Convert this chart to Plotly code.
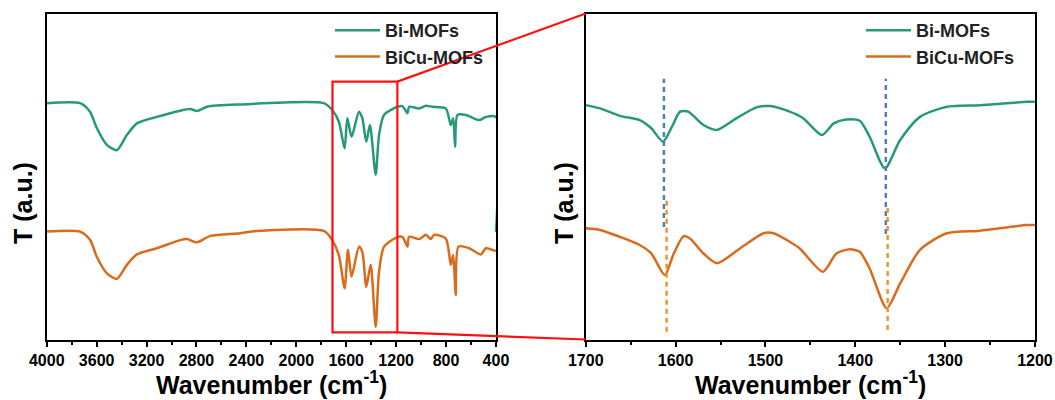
import plotly.graph_objects as go

# ---------------- FTIR spectra, full scan (4000-400 cm-1) ----------------
wide_wn_bi = [4000, 3733, 3652, 3599, 3518, 3438, 3358, 3277, 3117, 2930, 2849, 2796,
              2715, 2448, 1781, 1712, 1659, 1613, 1591, 1557, 1498, 1471, 1439, 1410,
              1364, 1337, 1297, 1190, 1150, 1109, 1096, 1016, 962, 909, 802, 762, 743,
              727, 708, 641, 534, 480, 400, 400]
wide_t_bi = [72.5, 72.5, 69.8, 64.9, 59.7, 58.1, 62.7, 66.3, 68.3, 70.2, 70.7, 70.1,
             71.4, 72.1, 72.5, 70.4, 66.8, 58.7, 67.9, 62.2, 69.9, 67.9, 60.7, 65.8,
             50.5, 62.7, 68.9, 71.4, 71.6, 69.4, 71.4, 70.9, 71.7, 71.4, 70.9, 65.8,
             67.9, 59.1, 68.9, 68.9, 67.3, 68.3, 68.3, 33.0]

wide_wn_bicu = [4000, 3733, 3652, 3599, 3518, 3438, 3358, 3277, 3117, 2930, 2876, 2796,
                2689, 2448, 2314, 1779, 1712, 1659, 1613, 1586, 1557, 1498, 1471, 1439,
                1404, 1364, 1337, 1297, 1203, 1150, 1109, 1096, 1016, 962, 922, 896,
                802, 762, 743, 722, 700, 615, 521, 481, 400]
wide_t_bicu = [33.1, 33.1, 30.5, 25.4, 20.3, 18.6, 22.9, 26.1, 28.0, 30.5, 30.8, 29.8,
               31.8, 32.6, 33.3, 33.3, 30.5, 25.9, 15.7, 27.5, 19.3, 28.5, 26.9, 16.2,
               22.9, 3.9, 20.8, 28.5, 31.2, 31.5, 28.5, 31.5, 30.8, 32.1, 30.8, 32.1,
               31.0, 22.9, 25.9, 13.7, 28.5, 28.0, 26.1, 28.0, 27.1]

# ---------------- Enlarged region (1700-1200 cm-1) ----------------
zoom_wn_bi = [1700, 1684, 1662, 1640, 1627, 1614, 1604, 1595, 1586, 1569, 1554, 1532,
              1510, 1495, 1473, 1458, 1437, 1424, 1410, 1395, 1384, 1367, 1350, 1328,
              1298, 1261, 1209, 1200]
zoom_t_bi = [71.9, 70.9, 68.6, 67.3, 64.8, 60.7, 65.3, 69.9, 69.9, 65.8, 64.3, 67.9,
             71.2, 71.6, 69.9, 67.9, 62.7, 66.3, 67.5, 67.1, 62.2, 52.5, 61.2, 68.3,
             71.4, 71.9, 72.9, 72.9]

zoom_wn_bicu = [1700, 1684, 1662, 1640, 1627, 1612, 1602, 1591, 1584, 1569, 1554, 1528,
                1502, 1491, 1473, 1462, 1436, 1421, 1406, 1395, 1384, 1365, 1350, 1328,
                1298, 1261, 1209, 1200]
zoom_t_bicu = [34.1, 33.6, 31.5, 29.0, 26.4, 19.8, 26.4, 31.7, 31.0, 26.4, 23.4, 28.0,
               32.6, 32.6, 30.0, 28.0, 20.8, 26.4, 27.7, 26.9, 21.8, 9.6, 17.2, 27.5,
               32.6, 33.4, 35.1, 35.1]

# Band guides in the enlarged panel: position and vertical extent
guide_wn_bi = [1613, 1366]
guide_span_bi = [(34.5, 80.0), (32.4, 80.0)]
guide_wn_bicu = [1610, 1364]
guide_span_bicu = [(2.4, 42.8), (2.9, 41.3)]

# Highlighted window on the full scan
window_wn = (1710, 1190)
window_t = (2.2, 79.1)

series_names = ["Bi-MOFs", "BiCu-MOFs"]
GREEN = "#27997a"
ORANGE = "#d86b1c"
GUIDE_BLUE = "#4a7fbd"
GUIDE_ORANGE = "#f0962e"
FONT = "Liberation Sans"

# Panel geometry (paper fractions)
LEFT_DOM = [0.0443, 0.4701]
RIGHT_DOM = [0.5552, 0.9810]
Y_DOM = [0.1512, 0.9662]
Y_RANGE = [0, 100]
LEFT_RANGE = [4000, 400]
RIGHT_RANGE = [1700, 1200]

fig = go.Figure()

line_kw = dict(shape="spline", smoothing=0.7, width=2.5)

fig.add_trace(go.Scatter(x=wide_wn_bi, y=wide_t_bi, mode="lines", name=series_names[0],
                         line=dict(color=GREEN, **line_kw), xaxis="x", yaxis="y",
                         legend="legend"))
fig.add_trace(go.Scatter(x=wide_wn_bicu, y=wide_t_bicu, mode="lines", name=series_names[1],
                         line=dict(color=ORANGE, **line_kw), xaxis="x", yaxis="y",
                         legend="legend"))
fig.add_trace(go.Scatter(x=zoom_wn_bi, y=zoom_t_bi, mode="lines", name=series_names[0],
                         line=dict(color=GREEN, **line_kw), xaxis="x2", yaxis="y2",
                         legend="legend2"))
fig.add_trace(go.Scatter(x=zoom_wn_bicu, y=zoom_t_bicu, mode="lines", name=series_names[1],
                         line=dict(color=ORANGE, **line_kw), xaxis="x2", yaxis="y2",
                         legend="legend2"))

for wn, (lo, hi) in zip(guide_wn_bi, guide_span_bi):
    fig.add_trace(go.Scatter(x=[wn, wn], y=[lo, hi], mode="lines", showlegend=False,
                             line=dict(color=GUIDE_BLUE, width=2.5, dash="5px,4px"),
                             xaxis="x2", yaxis="y2", hoverinfo="skip"))
for wn, (lo, hi) in zip(guide_wn_bicu, guide_span_bicu):
    fig.add_trace(go.Scatter(x=[wn, wn], y=[lo, hi], mode="lines", showlegend=False,
                             line=dict(color=GUIDE_ORANGE, width=2.5, dash="5px,4px"),
                             xaxis="x2", yaxis="y2", hoverinfo="skip"))

tickfont = dict(family=FONT, size=16, color="black", weight="bold")
common_x = dict(showline=True, linecolor="black", linewidth=2, mirror=True,
                ticks="outside", ticklen=5, tickwidth=2, tickcolor="black",
                tickfont=tickfont, showgrid=False, zeroline=False,
                layer="below traces", automargin=False)
common_y = dict(showline=True, linecolor="black", linewidth=2, mirror=True,
                showticklabels=False, ticks="", showgrid=False, zeroline=False,
                range=Y_RANGE, domain=Y_DOM, layer="below traces", automargin=False)

legend_font = dict(family=FONT, size=18, color="#222", weight="bold")
fig.update_layout(
    width=1055, height=400,
    margin=dict(l=0, r=0, t=0, b=0, autoexpand=False),
    paper_bgcolor="white", plot_bgcolor="white",
    xaxis=dict(domain=LEFT_DOM, range=LEFT_RANGE, dtick=400, tick0=0,
               minor=dict(dtick=200, ticklen=3, tickwidth=2, ticks="outside",
                          tickcolor="black"),
               anchor="y", **common_x),
    yaxis=dict(anchor="x", **common_y),
    xaxis2=dict(domain=RIGHT_DOM, range=RIGHT_RANGE, dtick=100, tick0=0,
                minor=dict(dtick=50, ticklen=3, tickwidth=2, ticks="outside",
                           tickcolor="black"),
                anchor="y2", **common_x),
    yaxis2=dict(anchor="x2", **common_y),
    legend=dict(x=330 / 1055, y=1 - 12 / 400, xanchor="left", yanchor="top",
                bgcolor="rgba(0,0,0,0)", itemwidth=45, font=legend_font),
    legend2=dict(x=861 / 1055, y=1 - 12 / 400, xanchor="left", yanchor="top",
                 bgcolor="rgba(0,0,0,0)", itemwidth=45, font=legend_font),
    showlegend=True,
)

# Highlight window on the full scan and the connectors to the enlarged panel
fig.add_shape(type="rect", xref="x", yref="y", x0=window_wn[0], x1=window_wn[1],
              y0=window_t[0], y1=window_t[1], line=dict(color="#ff1010", width=2.2))


def left_px(wn):
    f = (LEFT_RANGE[0] - wn) / (LEFT_RANGE[0] - LEFT_RANGE[1])
    return LEFT_DOM[0] + f * (LEFT_DOM[1] - LEFT_DOM[0])


def y_py(t):
    f = (t - Y_RANGE[0]) / (Y_RANGE[1] - Y_RANGE[0])
    return Y_DOM[0] + f * (Y_DOM[1] - Y_DOM[0])


fig.add_shape(type="line", xref="paper", yref="paper",
              x0=left_px(window_wn[1]), y0=y_py(window_t[1]),
              x1=RIGHT_DOM[0], y1=Y_DOM[1], line=dict(color="#ff1010", width=2.2))
fig.add_shape(type="line", xref="paper", yref="paper",
              x0=left_px(window_wn[1]), y0=y_py(window_t[0]),
              x1=RIGHT_DOM[0], y1=Y_DOM[0], line=dict(color="#ff1010", width=2.2))

title_font = dict(family=FONT, size=25, color="black", weight="bold")
for dom in (LEFT_DOM, RIGHT_DOM):
    fig.add_annotation(text="Wavenumber (cm<sup>-1</sup>)", xref="paper", yref="paper",
                       x=(dom[0] + dom[1]) / 2, y=1 - 383 / 400, xanchor="center",
                       yanchor="middle", showarrow=False, font=title_font)
for xc in (23 / 1055, 564 / 1055):
    fig.add_annotation(text="T (a.u.)", xref="paper", yref="paper", x=xc,
                       y=1 - 203 / 400, xanchor="center", yanchor="middle",
                       textangle=-90, showarrow=False, font=title_font)

fig.write_html("out.html")
